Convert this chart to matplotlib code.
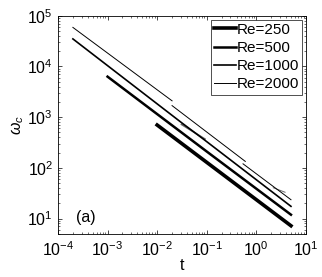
import numpy as np
import matplotlib
matplotlib.use('Agg')
import matplotlib.pyplot as plt

plt.rcParams['font.family'] = ['Liberation Sans', 'DejaVu Sans']
plt.rcParams['mathtext.fontset'] = 'custom'
plt.rcParams['mathtext.rm'] = 'Liberation Sans'
plt.rcParams['mathtext.it'] = 'Liberation Sans:italic'

# ---- data (t, omega_c) ----
re_labels = ['Re=250', 'Re=500', 'Re=1000', 'Re=2000']

# main curves
t_250 = [0.01, 0.37, 5.0]
w_250 = [700, 49, 7.2]

t_500 = [1e-3, 0.1, 5.0]
w_500 = [6300, 210, 11.9]

t_1000 = [2e-4, 0.031, 0.092, 5.0]
w_1000 = [3.5e4, 780, 350, 17.4]

# Re=2000 drawn as pieces from separate runs
t_2000a = [2e-4, 0.02]
w_2000a = [5.9e4, 2100]
t_2000b = [0.02, 0.6]
w_2000b = [1690, 134]
t_2000c = [0.54, 5.0]
w_2000c = [120, 23.5]

# short overlapping pieces (appear doubled)
t_1000x = [0.031, 0.092]
w_1000x = [720, 370]
t_2000x = [2.2, 3.8]
w_2000x = [40.5, 33]

widths = [2.6, 1.8, 1.2, 0.7]

fig = plt.figure(figsize=(3.22, 2.77), dpi=100)
ax = fig.add_axes([0.180, 0.156, 0.770, 0.787])

ax.loglog(t_250, w_250, 'k-', lw=widths[0], label=re_labels[0])
ax.loglog(t_500, w_500, 'k-', lw=widths[1], label=re_labels[1])
ax.loglog(t_1000, w_1000, 'k-', lw=widths[2], label=re_labels[2])
ax.loglog(t_2000a, w_2000a, 'k-', lw=widths[3], label=re_labels[3])
ax.loglog(t_2000b, w_2000b, 'k-', lw=widths[3])
ax.loglog(t_2000c, w_2000c, 'k-', lw=widths[3])
ax.loglog(t_1000x, w_1000x, 'k-', lw=widths[2], alpha=0.6)
ax.loglog(t_2000x, w_2000x, 'k-', lw=widths[3], alpha=0.6)

ax.set_xlim(1e-4, 1e1)
ax.set_ylim(5, 1e5)
ax.set_xlabel('t', fontsize=11.5, labelpad=-1)
ax.set_ylabel(r'$\omega_c$', fontsize=11.5, labelpad=1)

ax.tick_params(which='both', direction='in', top=True, right=True, labelsize=11.5)
ax.tick_params(axis='x', which='major', pad=5)
ax.tick_params(which='major', length=3, width=0.5)
ax.tick_params(which='minor', length=1.5, width=0.4)
for s in ax.spines.values():
    s.set_linewidth(0.6)

ax.text(0.113, 0.077, '(a)', transform=ax.transAxes, ha='center', va='center', fontsize=11.5)

leg = ax.legend(loc='upper right', fontsize=11, frameon=True, fancybox=False,
                edgecolor='k', handlelength=1.4, handletextpad=0.05,
                borderpad=0.2, labelspacing=0.28, borderaxespad=0.25)
leg.get_frame().set_linewidth(0.6)

fig.savefig('out.png', dpi=100)
